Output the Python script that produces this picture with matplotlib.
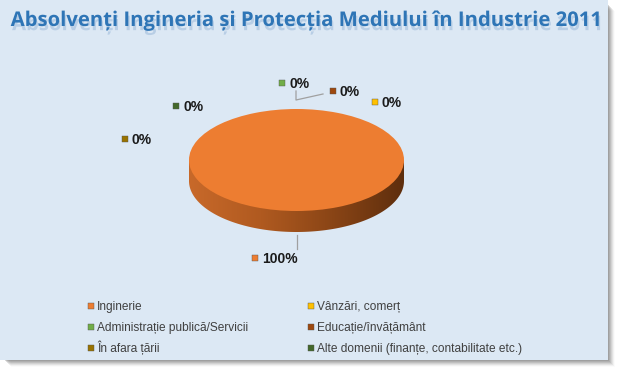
import numpy as np
import matplotlib
matplotlib.use('Agg')
import matplotlib.pyplot as plt
import matplotlib.patheffects as pe
from matplotlib.patches import Rectangle, Polygon

# data
categories = ['Inginerie', 'Vânzări, comerț', 'Administrație publică/Servicii',
              'Educație/învățământ', 'În afara țării',
              'Alte domenii (finanțe, contabilitate etc.)']
values = [100, 0, 0, 0, 0, 0]
colors = ['#ed7d31', '#ffc000', '#70ad47', '#9e480e', '#997300', '#43682b']
title = 'Absolvenți Ingineria și Protecția Mediului în Industrie 2011'

plt.rcParams['font.family'] = ['Liberation Sans', 'DejaVu Sans']

W, H = 617, 369
fig = plt.figure(figsize=(W / 100, H / 100), dpi=100)
fig.patch.set_facecolor('white')

ax = fig.add_axes([0, 0, 1, 1])
ax.set_xlim(0, W)
ax.set_ylim(H, 0)
ax.axis('off')

# shadow + background
for i, a in enumerate(np.linspace(0.35, 0.03, 8)):
    ax.add_patch(Rectangle((4 + i, 4 + i), 604, 356, color='#808080',
                           alpha=a, lw=0, zorder=0))
ax.add_patch(Rectangle((0, 0), 608, 360, color='#dce8f4', lw=0, zorder=1))

# title with soft shadow
ax.text(307, 21, title, ha='center', va='center', fontsize=14.6,
        fontweight='bold', family=['Open Sans', 'DejaVu Sans'],
        color='#2e75b6', zorder=3,
        path_effects=[pe.SimplePatchShadow(offset=(1, -3), shadow_rgbFace='#a9c3e0',
                                           alpha=0.7), pe.Normal()])

# pie axes: top face ellipse + side
cx, cy, rx, ry, depth = 296.5, 160, 107.5, 51, 21
d = depth / ry
pax = fig.add_axes([(cx - rx) / W, 1 - (cy + ry + depth) / H,
                    2 * rx / W, (2 * ry + depth) / H])
pax.axis('off')

t = np.linspace(np.pi, 2 * np.pi, 200)
side = np.vstack([np.column_stack([np.cos(t), np.sin(t) - d]),
                  [[1, 0], [-1, 0]]])
side_patch = Polygon(side, closed=True, facecolor='none', edgecolor='none')
pax.add_patch(side_patch)
grad = np.linspace(0, 1, 256).reshape(1, -1)
cmap = matplotlib.colors.LinearSegmentedColormap.from_list(
    'side', ['#c8692a', '#b05a20', '#8a4516', '#5e2e0d'])
im = pax.imshow(grad, extent=[-1, 1, -1 - d, 0], aspect='auto', cmap=cmap,
                zorder=1)
im.set_clip_path(side_patch)

wedges, _ = pax.pie(values, colors=colors, startangle=90, counterclock=False,
                    radius=1, wedgeprops=dict(linewidth=0))
for w in wedges:
    w.set_zorder(2)
pax.set_xlim(-1, 1)
pax.set_ylim(-1 - d, 1)
pax.set_aspect('auto')

# data labels
label_pos = [(255, 258), (375, 102), (282, 83), (333, 91), (125, 139), (176, 106)]
for (x, y), v, c in zip(label_pos, values, colors):
    ax.scatter([x], [y], marker='s', s=22, color=c, edgecolors='#555555',
               linewidths=0.3, zorder=5)
    ax.text(x + 7, y + 5, f'{v}%', ha='left', va='baseline', fontsize=10,
            fontweight='bold', color='#1a1a1a', zorder=5)

# leader lines
ax.plot([297, 297], [235, 249], color='#a0a0a0', lw=0.9, zorder=4)
ax.plot([296, 296, 323], [91, 100, 94], color='#a0a0a0', lw=0.9, zorder=4)

# legend
leg_pos = [(91, 306), (311, 306), (91, 327), (311, 327), (91, 348), (311, 348)]
for (x, y), name, c in zip(leg_pos, categories, colors):
    ax.scatter([x], [y], marker='s', s=18, color=c, edgecolors='#555555',
               linewidths=0.3, zorder=5)
    ax.text(x + 6, y + 4, name, ha='left', va='baseline', fontsize=8.6,
            color='#404040', zorder=5)

fig.savefig('out.png', dpi=100, facecolor=fig.get_facecolor())
